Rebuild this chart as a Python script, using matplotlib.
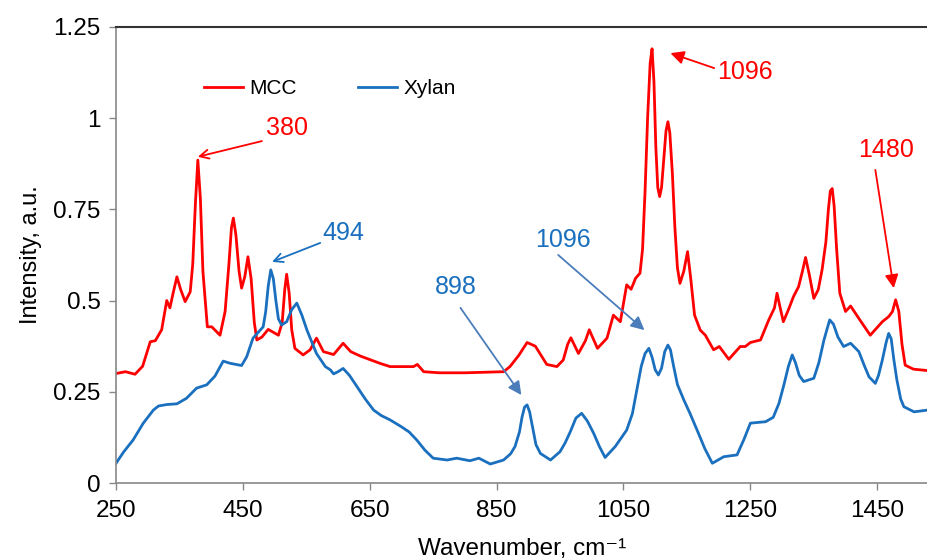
import numpy as np
import matplotlib
matplotlib.use("Agg")
import matplotlib.pyplot as plt

plt.rcParams['font.family'] = ['Liberation Sans', 'DejaVu Sans']

# MCC spectrum (wavenumber, intensity)
mcc_x = [250, 265, 280, 292, 304, 312, 322, 330, 335, 340, 346, 352, 359, 367, 371,
         375, 379, 383, 387, 394, 401, 414, 422, 428, 432, 435, 439, 444, 448, 453,
         458, 463, 468, 472, 480, 490, 506, 512, 516, 519, 523, 527, 532, 545, 556,
         566, 577, 593, 608, 620, 635, 666, 682, 719, 725, 735, 760, 800, 861, 871,
         885, 898, 911, 929, 945, 955, 962, 967, 979, 990, 996, 1009, 1024, 1034, 1045,
         1055, 1062, 1069, 1076, 1080, 1084, 1088, 1092, 1095, 1098, 1101, 1104, 1107,
         1110, 1114, 1117, 1120, 1123, 1127, 1131, 1135, 1139, 1145, 1151, 1156, 1162,
         1171, 1179, 1192, 1201, 1216, 1234, 1242, 1250, 1266, 1279, 1288, 1292, 1297,
         1302, 1310, 1318, 1326, 1332, 1337, 1343, 1350, 1357, 1363, 1369, 1373, 1376,
         1379, 1382, 1386, 1391, 1400, 1408, 1421, 1439, 1458, 1468, 1474, 1479, 1484,
         1489, 1494, 1507, 1530]
mcc_y = [0.300, 0.305, 0.298, 0.320, 0.387, 0.390, 0.420, 0.500, 0.480, 0.520, 0.565, 0.530,
         0.497, 0.524, 0.600, 0.760, 0.885, 0.780, 0.580, 0.428, 0.428, 0.405, 0.470,
         0.600, 0.700, 0.726, 0.680, 0.580, 0.534, 0.565, 0.620, 0.560, 0.440, 0.392,
         0.400, 0.421, 0.405, 0.440, 0.530, 0.572, 0.520, 0.420, 0.369, 0.351, 0.365,
         0.397, 0.360, 0.352, 0.383, 0.360, 0.348, 0.328, 0.319, 0.319, 0.325, 0.305,
         0.302, 0.302, 0.305, 0.319, 0.350, 0.385, 0.375, 0.325, 0.319, 0.337, 0.380,
         0.398, 0.355, 0.390, 0.420, 0.369, 0.397, 0.460, 0.442, 0.543, 0.531, 0.561,
         0.575, 0.640, 0.800, 1.000, 1.150, 1.190, 1.100, 0.920, 0.810, 0.785, 0.810,
         0.900, 0.965, 0.990, 0.960, 0.850, 0.700, 0.590, 0.547, 0.580, 0.634, 0.560,
         0.460, 0.419, 0.405, 0.365, 0.374, 0.339, 0.374, 0.374, 0.385, 0.392, 0.447,
         0.480, 0.520, 0.480, 0.442, 0.475, 0.511, 0.538, 0.580, 0.618, 0.570, 0.506,
         0.530, 0.584, 0.660, 0.750, 0.800, 0.807, 0.760, 0.640, 0.520, 0.470, 0.485,
         0.451, 0.405, 0.442, 0.456, 0.470, 0.502, 0.470, 0.380, 0.323, 0.312, 0.308]

# Xylan spectrum
xyl_x = [250, 262, 277, 293, 309, 317, 330, 346, 361, 377, 393, 406, 419, 430, 448,
         456, 466, 482, 486, 490, 494, 498, 502, 506, 511, 519, 527, 535, 543, 551,
         566, 580, 588, 593, 600, 608, 618, 630, 643, 656, 668, 682, 700, 712, 724,
         737, 750, 772, 787, 808, 822, 840, 861, 872, 879, 886, 890, 894, 898, 902,
         907, 912, 919, 935, 950, 958, 966, 975, 984, 993, 1003, 1012, 1021, 1037, 1055,
         1064, 1071, 1078, 1084, 1090, 1095, 1100, 1105, 1110, 1115, 1120, 1124, 1129,
         1135, 1145, 1155, 1166, 1178, 1190, 1208, 1229, 1240, 1250, 1274, 1286, 1295,
         1303, 1310, 1316, 1321, 1327, 1334, 1350, 1358, 1366, 1375, 1381, 1388, 1397,
         1408, 1421, 1430, 1437, 1447, 1452, 1458, 1464, 1468, 1472, 1476, 1481, 1487,
         1492, 1508, 1530]
xyl_y = [0.054, 0.085, 0.118, 0.164, 0.200, 0.211, 0.215, 0.217, 0.232, 0.260, 0.269,
         0.293, 0.334, 0.328, 0.322, 0.346, 0.397, 0.428, 0.470, 0.540, 0.584, 0.560,
         0.500, 0.450, 0.433, 0.442, 0.475, 0.493, 0.460, 0.419, 0.355, 0.319, 0.310,
         0.299, 0.305, 0.314, 0.295, 0.264, 0.230, 0.200, 0.185, 0.173, 0.154, 0.140,
         0.118, 0.090, 0.068, 0.063, 0.068, 0.061, 0.068, 0.052, 0.063, 0.080, 0.100,
         0.140, 0.180, 0.208, 0.214, 0.195, 0.150, 0.105, 0.081, 0.063, 0.086, 0.110,
         0.140, 0.178, 0.191, 0.170, 0.136, 0.100, 0.070, 0.100, 0.145, 0.190, 0.255,
         0.320, 0.355, 0.369, 0.345, 0.310, 0.296, 0.315, 0.360, 0.378, 0.365, 0.320,
         0.270, 0.228, 0.190, 0.145, 0.095, 0.054, 0.072, 0.077, 0.120, 0.164, 0.168,
         0.180, 0.218, 0.270, 0.320, 0.351, 0.330, 0.295, 0.278, 0.287, 0.330, 0.392,
         0.447, 0.435, 0.400, 0.374, 0.383, 0.360, 0.320, 0.291, 0.273, 0.295, 0.337,
         0.385, 0.410, 0.395, 0.340, 0.282, 0.230, 0.209, 0.195, 0.200]

x_ticks = [250, 450, 650, 850, 1050, 1250, 1450]
y_ticks = [0, 0.25, 0.5, 0.75, 1, 1.25]
y_labels = ['0', '0.25', '0.5', '0.75', '1', '1.25']

red = '#FF0000'
blue = '#1A70BE'
arrow_blue = '#4A7DBA'

fig = plt.figure(figsize=(9.28, 5.6), dpi=100)
ax = fig.add_axes([0.125, 0.1375, 0.875, 0.8145])

ax.plot(mcc_x, mcc_y, color=red, lw=2.0, label='MCC', solid_joinstyle='round')
ax.plot(xyl_x, xyl_y, color=blue, lw=2.0, label='Xylan', solid_joinstyle='round')

ax.set_xlim(250, 1530)
ax.set_ylim(0, 1.25)
ax.set_xticks(x_ticks)
ax.set_yticks(y_ticks)
ax.set_yticklabels(y_labels)
ax.tick_params(direction='out', length=5, width=1, color='#888888',
               labelsize=17.5, pad=6)
ax.tick_params(axis='x', pad=7)

for s in ['left', 'bottom']:
    ax.spines[s].set_color('#888888')
    ax.spines[s].set_linewidth(1.2)
ax.spines['top'].set_color('#333333')
ax.spines['top'].set_linewidth(1.5)
ax.spines['right'].set_visible(False)

ax.set_xlabel('Wavenumber, cm\u207b\u00b9', fontsize=17.5, labelpad=12)
ax.set_ylabel('Intensity, a.u.', fontsize=17, labelpad=8)

ax.legend(loc='center left', bbox_to_anchor=(0.085, 0.865), ncol=2, frameon=False,
          fontsize=15, handlelength=1.9, handletextpad=0.3, columnspacing=2.9)

# annotations: (text, text position, arrow tail, arrow head, colour, filled head)
notes = [
    ('380', (520, 0.973), (480, 0.937), (379, 0.894), red, red, False),
    ('494', (608, 0.685), (572, 0.658), (496, 0.606), blue, blue, False),
    ('898', (786, 0.537), (793, 0.480), (889, 0.241), blue, arrow_blue, True),
    ('1096', (955, 0.666), (947, 0.625), (1083, 0.419), blue, arrow_blue, True),
    ('1096', (1242, 1.127), (1193, 1.137), (1124, 1.178), red, red, True),
    ('1480', (1464, 0.913), (1447, 0.858), (1476, 0.534), red, red, True),
]
for txt, tpos, tail, head, tcol, acol, filled in notes:
    ax.text(tpos[0], tpos[1], txt, color=tcol, fontsize=18, ha='center', va='center')
    style = '-|>' if filled else '->'
    ax.annotate('', xy=head, xytext=tail,
                arrowprops=dict(arrowstyle=style, color=acol, lw=1.3,
                                mutation_scale=20 if filled else 16,
                                shrinkA=0, shrinkB=0))

fig.savefig('out.png', dpi=100)
